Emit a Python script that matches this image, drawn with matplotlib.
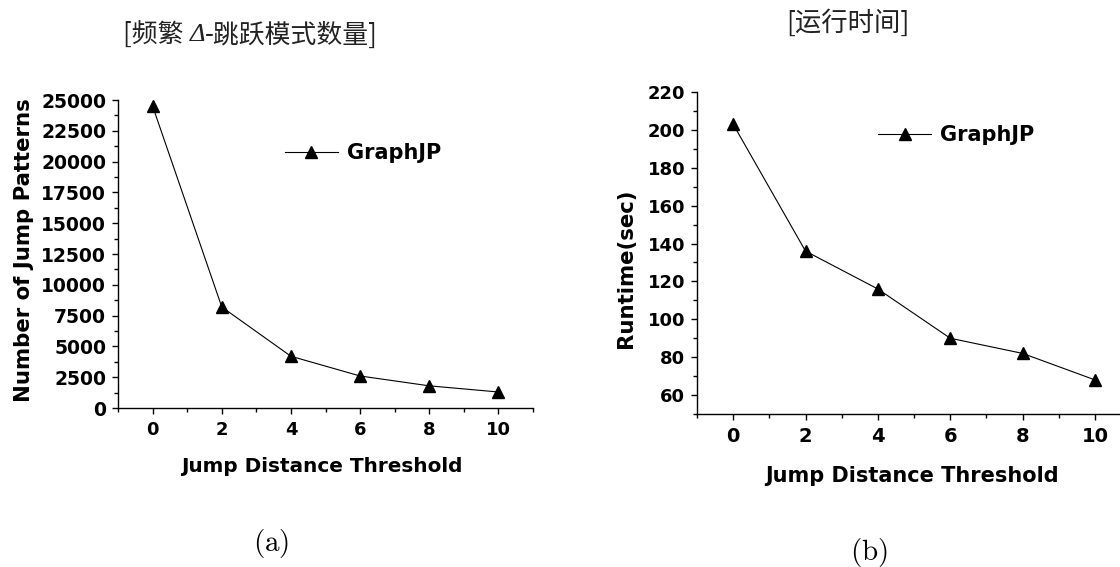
import matplotlib
matplotlib.use("Agg")
import matplotlib.pyplot as plt
from matplotlib.ticker import MultipleLocator
from matplotlib.lines import Line2D

# Jump distance thresholds and measured results
thresholds = [0, 2, 4, 6, 8, 10]
pattern_counts = [24500, 8200, 4200, 2600, 1800, 1300]
runtimes = [203, 136, 116, 90, 82, 68]
series_name = "GraphJP"

title_a_parts = ["[频繁 ", "Δ", "-跳跃模式数量]"]
title_b = "[运行时间]"
xlabel = "Jump Distance Threshold"
ylabel_a = "Number of Jump Patterns"
ylabel_b = "Runtime(sec)"

plt.rcParams["font.family"] = ["DejaVu Sans"]

fig = plt.figure(figsize=(11.2, 5.67), dpi=100)
ax_a = fig.add_axes([0.1054, 0.2804, 0.3705, 0.5432])
ax_b = fig.add_axes([0.6223, 0.2698, 0.3877, 0.5679])


def style_axis(ax, fs_xtick, fs_ytick):
    for s in ("top", "right"):
        ax.spines[s].set_visible(False)
    for s in ("left", "bottom"):
        ax.spines[s].set_linewidth(1.0)
    ax.set_xlim(-1, 11)
    ax.xaxis.set_major_locator(MultipleLocator(2))
    ax.xaxis.set_minor_locator(MultipleLocator(1))
    ax.tick_params(which="major", direction="out", length=4.5, width=1.0)
    ax.tick_params(which="minor", direction="out", length=3, width=1.0)
    ax.tick_params(axis="x", labelsize=fs_xtick, pad=5)
    ax.tick_params(axis="y", labelsize=fs_ytick, pad=4)
    for lbl in ax.get_xticklabels() + ax.get_yticklabels():
        lbl.set_fontweight("bold")


# Panel (a): number of frequent jump patterns
ax_a.plot(thresholds, pattern_counts, color="black", lw=0.8,
          marker="^", markersize=9)
ax_a.set_ylim(0, 25000)
ax_a.yaxis.set_major_locator(MultipleLocator(2500))
ax_a.yaxis.set_minor_locator(MultipleLocator(1250))
style_axis(ax_a, 13, 13.5)
ax_a.set_xlabel(xlabel, fontsize=14.4, fontweight="bold")
ax_a.set_ylabel(ylabel_a, fontsize=15.3, fontweight="bold")
ax_a.xaxis.set_label_coords(0.49, -0.16)
ax_a.yaxis.set_label_coords(-0.202, 0.513)

# Panel (b): runtime
ax_b.plot(thresholds, runtimes, color="black", lw=0.8,
          marker="^", markersize=9)
ax_b.set_ylim(50, 220)
ax_b.yaxis.set_major_locator(MultipleLocator(20))
ax_b.yaxis.set_minor_locator(MultipleLocator(10))
style_axis(ax_b, 14, 13)
ax_b.set_xlabel(xlabel, fontsize=15, fontweight="bold")
ax_b.set_ylabel(ylabel_b, fontsize=15.3, fontweight="bold")
ax_b.xaxis.set_label_coords(0.496, -0.16)
ax_b.yaxis.set_label_coords(-0.141, 0.453)

# Legends
handle = Line2D([], [], color="black", lw=0.8, marker="^", markersize=9)
for ax, loc in ((ax_a, (0.402, 0.828)), (ax_b, (0.417, 0.866))):
    ax.legend([handle], [series_name], loc="center left",
              bbox_to_anchor=loc, frameon=False, borderaxespad=0,
              borderpad=0, handlelength=2.54, handletextpad=0.43,
              prop={"weight": "bold", "size": 15})

# Panel titles (the delta is set in italic serif) and captions
cjk = ["Noto Sans CJK SC", "DejaVu Sans"]
t1 = fig.text(0.110, 0.938, title_a_parts[0], ha="left", va="center",
              fontsize=18.6, family=cjk, color="#222222")
t2 = ax_a.annotate(title_a_parts[1], xy=(1, 0.5), xycoords=t1,
                   ha="left", va="center", fontsize=19,
                   family="Liberation Serif", style="italic",
                   color="#222222", annotation_clip=False)
ax_a.annotate(title_a_parts[2], xy=(1, 0.5), xycoords=t2,
              ha="left", va="center", fontsize=18.6, family=cjk,
              color="#222222", annotation_clip=False)
fig.text(0.757, 0.959, title_b, ha="center", va="center", fontsize=19,
         family=cjk, color="#222222")
fig.text(0.242, 0.042, r"$\mathrm{(a)}$", ha="center", va="center",
         fontsize=21, math_fontfamily="cm")
fig.text(0.776, 0.026, r"$\mathrm{(b)}$", ha="center", va="center",
         fontsize=21, math_fontfamily="cm")

fig.savefig("out.png", dpi=100)
